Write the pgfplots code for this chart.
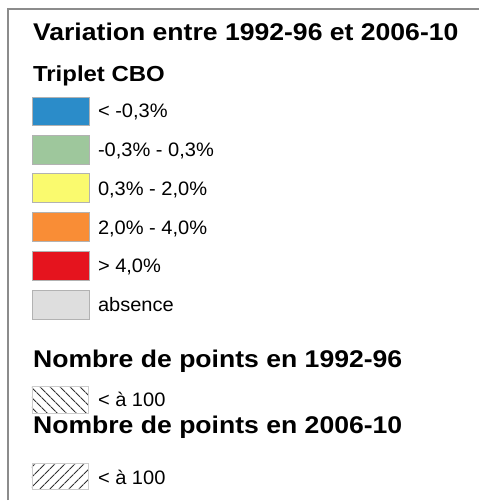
\documentclass[border=0pt]{standalone}
\usepackage{fontspec}
\usepackage{pgfplots}
\pgfplotsset{compat=1.18}
\usetikzlibrary{patterns.meta}
\newfontfamily\headfont{Liberation Sans}[FakeStretch=1.1]
\newfontfamily\labfont{Liberation Sans}[FakeStretch=1.03]

\definecolor{cblue}{HTML}{2B8CC9}
\definecolor{cgreen}{HTML}{9EC79C}
\definecolor{cyellow}{HTML}{FAFA6E}
\definecolor{corange}{HTML}{F98D36}
\definecolor{cred}{HTML}{E5141E}
\definecolor{cgrey}{HTML}{DEDEDE}
\definecolor{frame}{HTML}{8C8C8C}

\tikzset{
    swatch/.style={draw=gray!60, line width=0.6bp},
    lab/.style={anchor=base west, inner sep=0pt, font=\labfont\fontsize{19.5bp}{22bp}\selectfont},
    head/.style={anchor=base west, inner sep=0pt, font=\headfont\bfseries\fontsize{24.2bp}{27bp}\selectfont},
}

\begin{document}
\begin{tikzpicture}
\begin{axis}[
    width=480bp, height=501bp, scale only axis,
    xmin=0, xmax=480, ymin=0, ymax=501,
    y dir=reverse, hide axis, clip=false,
]
\path (rel axis cs:0,0) rectangle (rel axis cs:1,1);

% cadre
\addplot[frame, line width=2bp] coordinates {(8.5,501) (8.5,9.5) (480,9.5)};

% classes de variation
\addplot[swatch, fill=cblue]   coordinates {(32,97) (89,97) (89,126) (32,126)} --cycle;
\addplot[swatch, fill=cgreen]  coordinates {(32,135.5) (89,135.5) (89,164.5) (32,164.5)} --cycle;
\addplot[swatch, fill=cyellow] coordinates {(32,174) (89,174) (89,203) (32,203)} --cycle;
\addplot[swatch, fill=corange] coordinates {(32,213) (89,213) (89,242) (32,242)} --cycle;
\addplot[swatch, fill=cred]    coordinates {(32,252) (89,252) (89,281) (32,281)} --cycle;
\addplot[swatch, fill=cgrey]   coordinates {(32,290.5) (89,290.5) (89,319.5) (32,319.5)} --cycle;

% hachures
\addplot[draw=gray!40, line width=0.6bp,
    pattern={Lines[angle=-45, distance=6.8bp, line width=1bp]}, pattern color=black!80]
    coordinates {(32,387) (88,387) (88,414) (32,414)} --cycle;
\addplot[draw=gray!40, line width=0.6bp,
    pattern={Lines[angle=45, distance=6.8bp, line width=1bp]}, pattern color=black!80]
    coordinates {(32,464) (88,464) (88,490) (32,490)} --cycle;

% textes
\node[head] at (axis cs:33,41) {Variation entre 1992-96 et 2006-10};
\node[head, font=\headfont\bfseries\fontsize{21.8bp}{24bp}\selectfont] at (axis cs:33,82) {Triplet CBO};
\node[lab] at (axis cs:98,118) {< -0,3\%};
\node[lab] at (axis cs:98,157) {-0,3\% - 0,3\%};
\node[lab] at (axis cs:98,195.5) {0,3\% - 2,0\%};
\node[lab] at (axis cs:98,234.5) {2,0\% - 4,0\%};
\node[lab] at (axis cs:98,273.5) {> 4,0\%};
\node[lab] at (axis cs:98,312) {absence};
\node[head] at (axis cs:33,368) {Nombre de points en 1992-96};
\node[lab] at (axis cs:98,407) {< à 100};
\node[head] at (axis cs:33,434) {Nombre de points en 2006-10};
\node[lab] at (axis cs:98,485) {< à 100};
\end{axis}
\end{tikzpicture}
\end{document}
